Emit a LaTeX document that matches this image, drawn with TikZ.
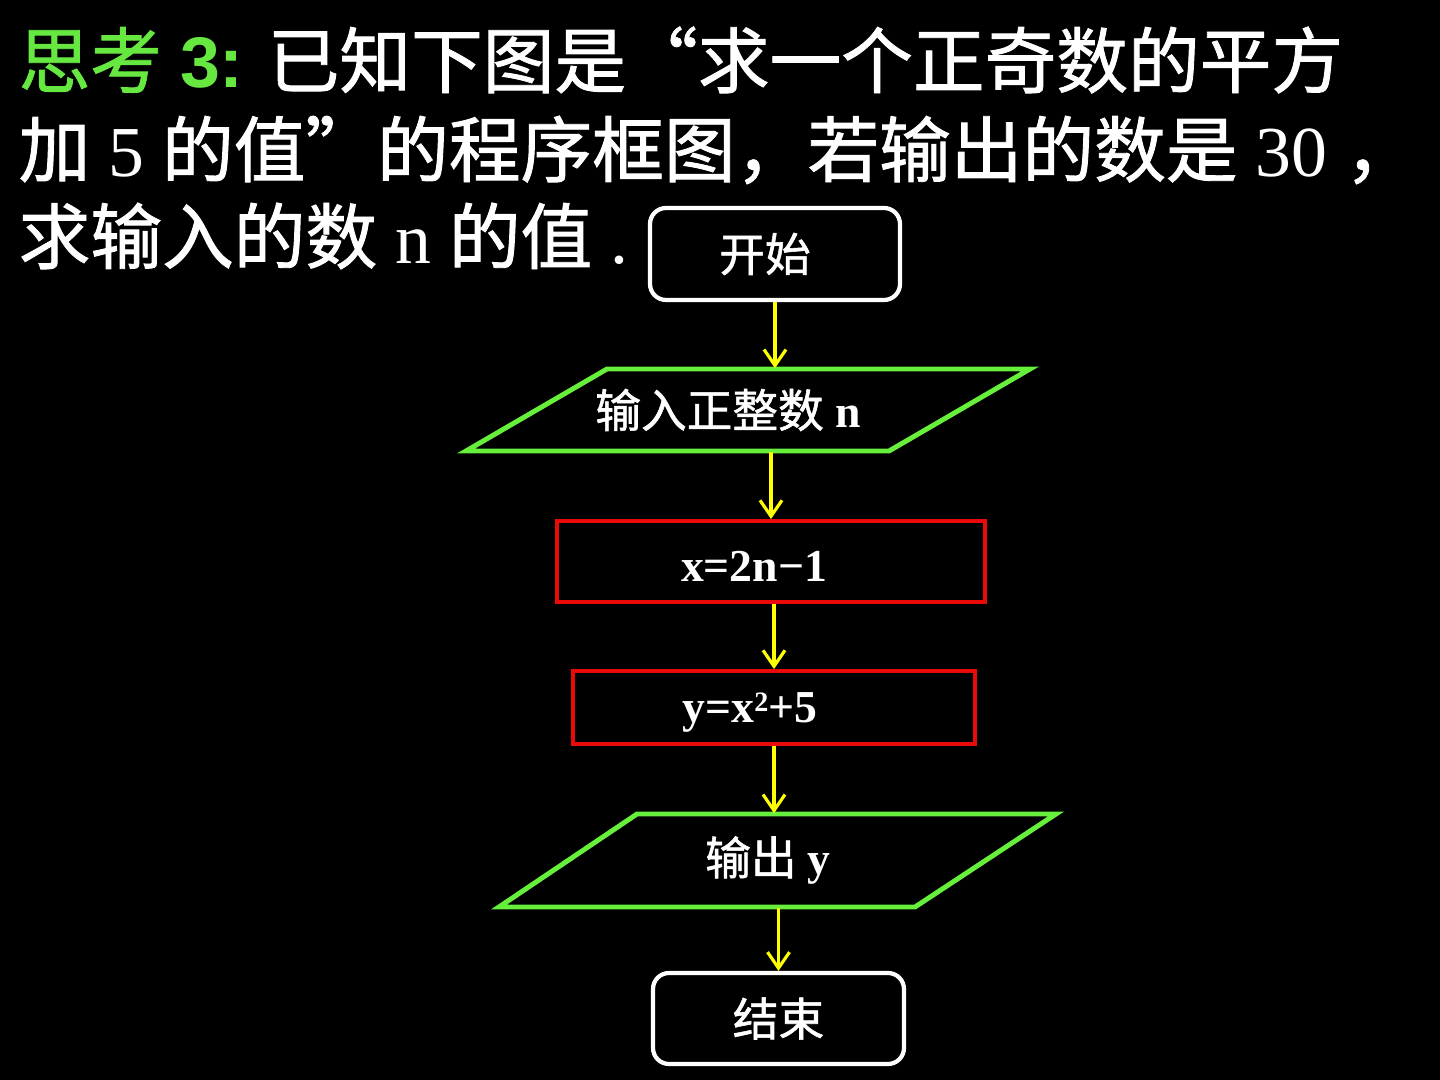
\documentclass[tikz,border=0pt]{standalone}
\usepackage{fontspec}
\setmainfont{Liberation Serif}
\setsansfont{Liberation Sans}
\newfontfamily\cjk{Noto Sans CJK SC}[FakeBold=1.2]
\usetikzlibrary{arrows.meta}
\definecolor{titlegreen}{RGB}{102,232,64}
\definecolor{boxgreen}{RGB}{102,240,60}
\definecolor{boxred}{RGB}{235,10,10}
\definecolor{arrowyellow}{RGB}{255,255,0}

\begin{document}
\begin{tikzpicture}[
  termbox/.style={draw=white, line width=1.2pt, rounded corners=0.16cm, inner sep=0pt, text=white, chart},
  procbox/.style={draw=boxred, line width=1.1pt, inner sep=0pt},
  iotext/.style={minimum height=#1, inner sep=0pt, text=white, chart},
  iobox/.style={draw=boxgreen, line width=1.4pt},
  flow/.style={draw=arrowyellow, line width=0.9pt, -{Straight Barb[length=0.16cm,width=0.22cm]}},
  chart/.style={font=\fontsize{13pt}{15pt}\selectfont},
  title/.style={anchor=west, text=white, inner sep=0pt, font=\fontsize{20.4pt}{24pt}\selectfont}
]
	\fill[black] (0,0) rectangle (14.4,-10.8);
	
	% question
	\node[title] (q1) at (0.18,-0.60) {{\color{titlegreen}{\cjk 思考} \sffamily\bfseries 3:} {\cjk 已知下图是“求一个正奇数的平方}};
	\node[title] (q2) at (0.18,-1.50) {{\cjk 加} 5 {\cjk 的值”的程序框图，若输出的数是} 30 {\cjk ，}};
	\node[title] (q3) at (0.18,-2.36) {{\cjk 求输入的数} n {\cjk 的值} .};
	
	% flow chart
	\node[termbox, minimum width=2.5cm, minimum height=0.92cm] (start) at (7.75,-2.54) {{\cjk 开始}\kern0.2cm};
	
	\node[iotext=0.82cm] (in) at (7.28,-4.10) {{\cjk 输入正整数} \textbf{n}};
	\draw[iobox, shift={(in.center)}] (-2.62,-0.41) -- (1.61,-0.41) -- (3.02,0.41) -- (-1.21,0.41) -- cycle;
	
	\node[procbox, minimum width=4.28cm, minimum height=0.81cm,
	      label={[chart, text=white, xshift=-0.17cm, yshift=-0.05cm]center:\textbf{x=2n−1}}] (xval) at (7.71,-5.615) {};
	\node[procbox, minimum width=4.02cm, minimum height=0.73cm,
	      label={[chart, text=white, xshift=-0.24cm, yshift=-0.05cm]center:\textbf{y=x\raisebox{0.55ex}{\fontsize{8pt}{8pt}\selectfont 2}+5}}] (yval) at (7.74,-7.075) {};
	
	\node[iotext=0.93cm] (out) at (7.68,-8.605) {{\cjk 输出} \textbf{y}};
	\draw[iobox, shift={(out.center)}] (-2.69,-0.465) -- (1.47,-0.465) -- (2.88,0.465) -- (-1.31,0.465) -- cycle;
	
	\node[termbox, minimum width=2.51cm, minimum height=0.91cm] (stop) at (7.785,-10.185) {{\cjk 结束}};
	
	\draw[flow] (start.south) -- (start.south |- in.north);
	\draw[flow] (xval.north |- in.south) -- (xval.north);
	\draw[flow] (yval.north |- xval.south) -- (yval.north);
	\draw[flow] (yval.south) -- (yval.south |- out.north);
	\draw[flow] (stop.north |- out.south) -- (stop.north);
\end{tikzpicture}
\end{document}
